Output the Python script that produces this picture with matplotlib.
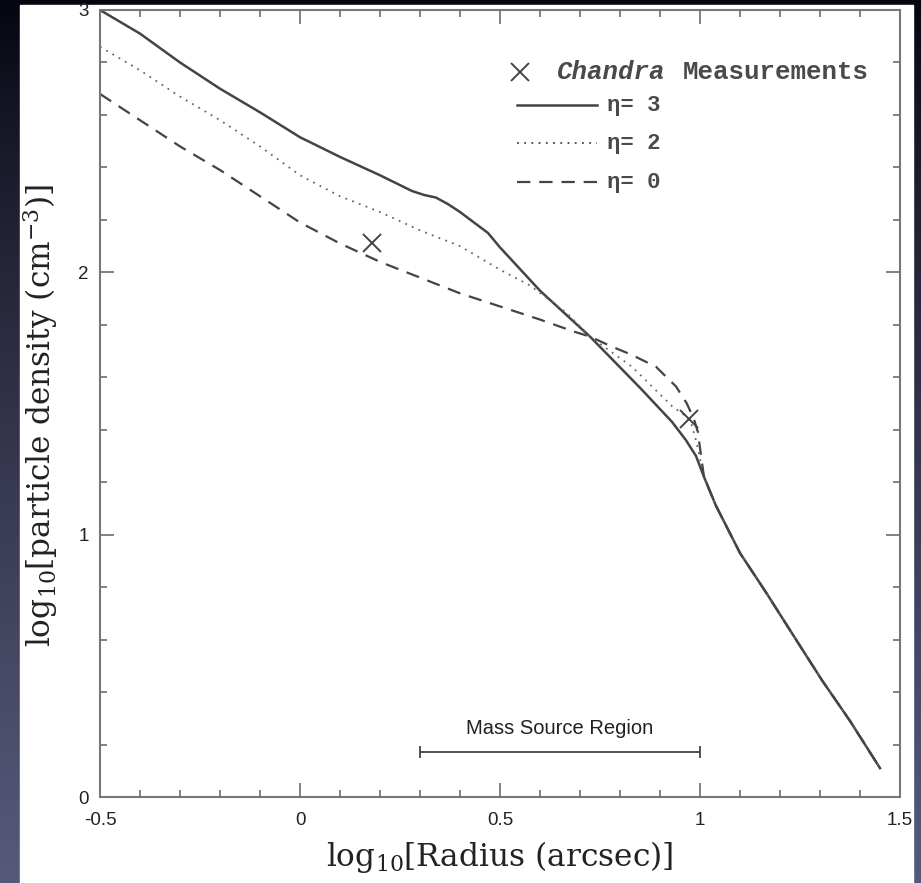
import numpy as np
import matplotlib
matplotlib.use("Agg")
import matplotlib.pyplot as plt
from matplotlib.patches import Rectangle
from matplotlib.ticker import MultipleLocator

plt.rcParams["mathtext.fontset"] = "dejavuserif"

# model profiles (log10 radius -> log10 density)
solid_x = [-0.5, -0.4, -0.3, -0.2, -0.1, 0.0, 0.1, 0.2, 0.28, 0.31, 0.34, 0.37, 0.40,
           0.47, 0.5, 0.6, 0.725, 0.85, 0.93, 0.965, 0.99, 1.01]
solid_y = [3.0, 2.91, 2.80, 2.70, 2.61, 2.515, 2.44, 2.37, 2.31, 2.295, 2.285, 2.26, 2.23,
           2.15, 2.095, 1.93, 1.755, 1.56, 1.43, 1.36, 1.30, 1.22]
dotted_x = [-0.5, -0.4, -0.3, -0.2, -0.1, 0.0, 0.1, 0.2, 0.3, 0.4, 0.5, 0.575, 0.667,
            0.725, 0.83, 0.93, 0.975, 0.99, 1.01]
dotted_y = [2.86, 2.77, 2.67, 2.58, 2.48, 2.37, 2.29, 2.23, 2.16, 2.10, 2.01, 1.95, 1.845,
            1.755, 1.64, 1.49, 1.44, 1.36, 1.22]
dashed_x = [-0.5, -0.4, -0.3, -0.2, -0.1, 0.0, 0.1, 0.2, 0.3, 0.4, 0.5, 0.6, 0.683, 0.725,
            0.775, 0.83, 0.89, 0.94, 0.967, 0.985, 0.995, 1.0, 1.01]
dashed_y = [2.68, 2.58, 2.48, 2.39, 2.29, 2.19, 2.11, 2.04, 1.98, 1.92, 1.87, 1.82, 1.775,
            1.755, 1.72, 1.685, 1.64, 1.565, 1.50, 1.44, 1.39, 1.33, 1.22]
# all three models coincide outside the source region
tail_x = [1.04, 1.10, 1.165, 1.24, 1.305, 1.375, 1.45]
tail_y = [1.11, 0.93, 0.78, 0.60, 0.445, 0.29, 0.11]

chandra_x = [0.18, 0.973]
chandra_y = [2.11, 1.44]

source_lo, source_hi, source_level = 0.3, 1.0, 0.17

W, H = 921, 883
fig = plt.figure(figsize=(W / 100, H / 100), dpi=100)

# slide background: dark blue gradient with white card
bg = fig.add_axes([0, 0, 1, 1])
grad = np.linspace(0, 1, 256)[:, None] ** 0.8
top = np.array([0.02, 0.02, 0.06])
bot = np.array([0.34, 0.35, 0.48])
img = top[None, None, :] + grad[:, :, None] * (bot - top)[None, None, :]
bg.imshow(img, aspect="auto", extent=[0, W, H, 0])
bg.add_patch(Rectangle((20, 5), 893, 878, color="white"))
bg.set_xlim(0, W); bg.set_ylim(H, 0); bg.axis("off")

ax = fig.add_axes([100 / W, (H - 797) / H, 800 / W, 787 / H])
ax.set_facecolor("none")

line_col = "#444444"
ax.plot(solid_x + tail_x, solid_y + tail_y, color=line_col, lw=1.8, solid_joinstyle="round")
ax.plot(dotted_x + tail_x, dotted_y + tail_y, color="#666666", lw=1.3, ls=(0, (1, 3)))
ax.plot(dashed_x + tail_x, dashed_y + tail_y, color=line_col, lw=1.6, ls=(0, (6, 4)))
ax.plot(chandra_x, chandra_y, "x", color=line_col, ms=13, mew=1.4)

# mass source region bar
ax.plot([source_lo, source_hi], [source_level, source_level], color=line_col, lw=1.3,
        marker="|", ms=9, mew=1.3)
ax.text((source_lo + source_hi) / 2, source_level + 0.09, "Mass Source Region",
        ha="center", va="center", fontsize=14.5, family="Liberation Sans", color="#222222")

ax.set_xlim(-0.5, 1.5); ax.set_ylim(0, 3)
ax.xaxis.set_minor_locator(MultipleLocator(0.1))
ax.yaxis.set_minor_locator(MultipleLocator(0.2))
ax.set_xticks([-0.5, 0, 0.5, 1, 1.5], ["-0.5", "0", "0.5", "1", "1.5"])
ax.set_yticks([0, 1, 2, 3], ["0", "1", "2", "3"])
ax.tick_params(which="both", direction="in", top=True, right=True, color="#777777",
               width=1.3, labelsize=13.5, labelcolor="#222222")
ax.tick_params(which="major", length=10)
ax.tick_params(which="minor", length=5)
ax.tick_params(axis="x", pad=11)
ax.tick_params(axis="y", pad=8)
for lab in ax.get_xticklabels() + ax.get_yticklabels():
    lab.set_family("Liberation Sans")
for s in ax.spines.values():
    s.set_color("#777777"); s.set_linewidth(1.5)

ax.set_xlabel(r"log$_{10}$[Radius (arcsec)]", family="DejaVu Serif", fontsize=22.5,
              color="#222222")
ax.set_ylabel(r"log$_{10}$[particle density (cm$^{-3}$)]", family="DejaVu Serif",
              fontsize=22.5, color="#222222")
ax.xaxis.set_label_coords(0.5, -0.053)
ax.yaxis.set_label_coords(-0.05, 0.485)

# legend, drawn by hand to keep the original layout
mono = "Liberation Mono"
txt_col = "#4a4a4a"
ax.plot([0.525], [0.921], "x", color=line_col, ms=13, mew=1.4, transform=ax.transAxes)
ax.text(0.571, 0.921, "Chandra", style="italic", weight="bold", family=mono, fontsize=18.5,
        color=txt_col, va="center", transform=ax.transAxes)
ax.text(0.729, 0.921, "Measurements", weight="bold", family=mono, fontsize=18.5,
        color=txt_col, va="center", transform=ax.transAxes)
styles = [("-", 1.8, "3"), ((0, (1, 3)), 1.3, "2"), ((0, (6, 4)), 1.6, "0")]
for (ls, lw, eta), yy in zip(styles, [0.879, 0.831, 0.781]):
    ax.plot([0.521, 0.621], [yy, yy], ls=ls, lw=lw, color=line_col, transform=ax.transAxes)
    ax.text(0.634, yy, "\u03b7= " + eta, weight="bold", family=mono, fontsize=16,
            color=txt_col, va="center", transform=ax.transAxes)

fig.savefig("out.png", dpi=100)
